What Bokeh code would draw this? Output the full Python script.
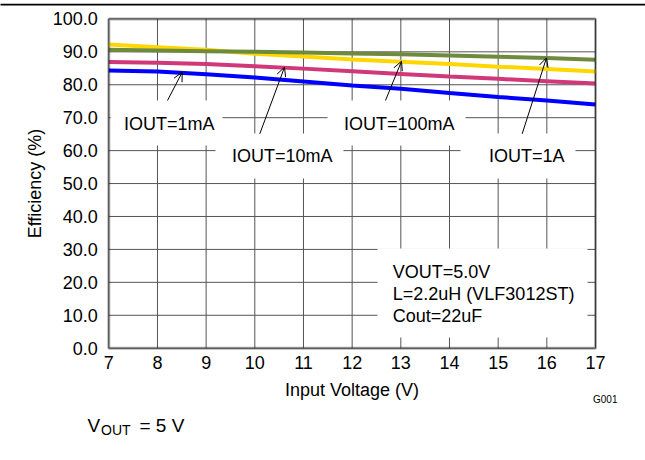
from bokeh.plotting import figure
from bokeh.models import (Range1d, FixedTicker, PrintfTickFormatter, BoxAnnotation,
                          Label, Arrow, OpenHead)
from bokeh.embed import file_html
from bokeh.resources import INLINE

# ---- data ----
vin = [7, 8, 9, 10, 11, 12, 13, 14, 15, 16, 17]
eff_1mA = [84.3, 84.0, 83.2, 82.2, 81.0, 79.8, 78.8, 77.5, 76.3, 75.2, 74.0]
eff_10mA = [86.9, 86.7, 86.3, 85.6, 84.9, 84.1, 83.3, 82.5, 81.8, 81.1, 80.4]
eff_100mA = [92.2, 91.4, 90.6, 89.4, 88.6, 87.7, 87.0, 86.3, 85.5, 84.8, 84.0]
eff_1A = [90.6, 90.4, 90.2, 90.0, 89.8, 89.5, 89.3, 88.9, 88.5, 88.1, 87.6]
x_ticks = [7, 8, 9, 10, 11, 12, 13, 14, 15, 16, 17]
y_ticks = [0, 10, 20, 30, 40, 50, 60, 70, 80, 90, 100]

FONT = "Liberation Sans"
W, H = 645, 460
# plot-area placement on the page (pixels)
FL, FR, FT, FB = 108.3, 595.0, 18.4, 347.7
XMIN, XMAX, YMIN, YMAX = x_ticks[0], x_ticks[-1], y_ticks[0], y_ticks[-1]
sx = (FR - FL) / (XMAX - XMIN)
sy = (FB - FT) / (YMAX - YMIN)
x_start = XMIN - FL / sx
x_end = XMAX + (W - FR) / sx
y_start = YMIN - (H - FB) / sy
y_end = YMAX + FT / sy


def X(px):
    return x_start + px / sx


def Y(py):
    return y_end - py / sy


p = figure(width=W, height=H, output_backend="svg", toolbar_location=None,
           title_location=None,
           x_range=Range1d(x_start, x_end), y_range=Range1d(y_start, y_end),
           min_border=0, min_border_left=0, min_border_right=0,
           min_border_top=0, min_border_bottom=0)
p.background_fill_color = "white"
p.border_fill_color = "white"
p.outline_line_color = None
p.xgrid.visible = False
p.ygrid.visible = False

# axes fixed at the plot-area edges
for ax in (p.xaxis[0], p.yaxis[0]):
    ax.axis_line_color = None
    ax.major_tick_line_color = None
    ax.minor_tick_line_color = None
    ax.major_tick_out = 0
    ax.major_tick_in = 0
    ax.major_label_text_font = FONT
    ax.major_label_text_font_size = "18px"
    ax.major_label_text_color = "black"
    ax.axis_label_text_font = FONT
    ax.axis_label_text_font_size = "18px"
    ax.axis_label_text_font_style = "normal"
    ax.axis_label_text_color = "black"

p.xaxis[0].fixed_location = YMIN
p.yaxis[0].fixed_location = XMIN
p.xaxis[0].bounds = (XMIN, XMAX)
p.yaxis[0].bounds = (YMIN, YMAX)
p.xaxis[0].ticker = FixedTicker(ticks=x_ticks)
p.yaxis[0].ticker = FixedTicker(ticks=y_ticks)
p.yaxis[0].formatter = PrintfTickFormatter(format="%.1f")
p.xaxis[0].major_label_standoff = 8
p.yaxis[0].major_label_standoff = 11
p.xaxis[0].axis_label = "Input Voltage (V)"
p.yaxis[0].axis_label = "Efficiency (%)"
p.xaxis[0].axis_label_standoff = 7
p.yaxis[0].axis_label_standoff = 4

# grid lines inside the plot area
GRID = "#555555"
p.segment(x0=x_ticks, y0=[YMIN] * len(x_ticks), x1=x_ticks, y1=[YMAX] * len(x_ticks),
          line_color=GRID, line_width=1)
p.segment(x0=[XMIN] * len(y_ticks), y0=y_ticks, x1=[XMAX] * len(y_ticks), y1=y_ticks,
          line_color=GRID, line_width=1)

# curves
p.line(vin, eff_1mA, line_color="#0000FF", line_width=4)
p.line(vin, eff_10mA, line_color="#D0387A", line_width=4)
p.line(vin, eff_100mA, line_color="#FFD700", line_width=4)
p.line(vin, eff_1A, line_color="#6E8B3D", line_width=4)

# white label boxes (page pixels: left, right, top, bottom)
boxes = [
    (110, 222, 100, 145),
    (215, 343, 133, 178),
    (327, 465, 100, 145),
    (460, 575, 133, 178),
    (377, 587, 248, 337),
]
for l, r, t, b in boxes:
    p.add_layout(BoxAnnotation(left=X(l), right=X(r), top=Y(t), bottom=Y(b),
                               fill_color="white", fill_alpha=1.0,
                               line_color=None))

# plot-area border
p.add_layout(BoxAnnotation(left=XMIN, right=XMAX, bottom=YMIN, top=YMAX,
                           fill_alpha=0.0, line_color="black", line_width=3))

# top rule
p.add_layout(BoxAnnotation(left=X(-5), right=X(W + 5), top=Y(3.2), bottom=Y(5.0),
                           fill_color="black", fill_alpha=1.0, line_color=None))

# arrows (page pixels: tail -> head)
arrows = [
    (167.0, 100.0, 181.7, 71.7),
    (259.3, 133.3, 284.0, 66.7),
    (385.0, 100.0, 401.0, 60.7),
    (521.7, 133.3, 546.0, 57.3),
]
for xs, ys, xe, ye in arrows:
    p.add_layout(Arrow(end=OpenHead(size=9, line_width=1, line_color="black"),
                       x_start=X(xs), y_start=Y(ys), x_end=X(xe), y_end=Y(ye),
                       line_width=1, line_color="black"))


def lab(px, py, text, size="18px", baseline="middle", align="left"):
    p.add_layout(Label(x=X(px), y=Y(py), text=text, text_font=FONT,
                       text_font_size=size, text_baseline=baseline,
                       text_align=align, text_color="black"))


lab(123.5, 123, "IOUT=1mA")
lab(231.5, 155, "IOUT=10mA")
lab(343.5, 123, "IOUT=100mA")
lab(488.5, 155, "IOUT=1A")
lab(392.3, 271.7, "VOUT=5.0V")
lab(392.3, 293.3, "L=2.2uH (VLF3012ST)")
lab(392.3, 315.0, "Cout=22uF")

lab(592.5, 399.3, "G001", size="10px", baseline="alphabetic")
lab(87.0, 425.0, "V", size="19px", baseline="alphabetic")
lab(100.5, 429.3, "OUT", size="14px", baseline="alphabetic")
lab(139.0, 425.0, "= 5 V", size="19px", baseline="alphabetic")

open("out.html", "w").write(file_html(p, INLINE))
